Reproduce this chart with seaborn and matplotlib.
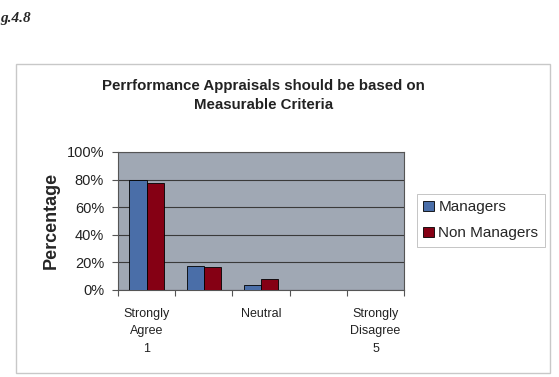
import matplotlib
matplotlib.use("Agg")
import matplotlib.pyplot as plt
import seaborn as sns
import pandas as pd
from matplotlib.patches import Rectangle
from matplotlib.ticker import FixedLocator, PercentFormatter

categories = ["1", "2", "3", "4", "5"]
tick_labels = ["Strongly\nAgree\n1", "", "Neutral", "", "Strongly\nDisagree\n5"]
series_names = ["Managers", "Non Managers"]
managers = [80, 17.5, 3.5, 0, 0]
non_managers = [77.5, 16.5, 8, 0, 0]
title = "Perrformance Appraisals should be based on\nMeasurable Criteria"
fig_label = "g.4.8"

df = pd.DataFrame({
    "category": categories * 2,
    "series": [series_names[0]] * len(categories) + [series_names[1]] * len(categories),
    "value": managers + non_managers,
})

sns.set_theme(style="white")
plt.rcParams["font.family"] = ["Liberation Sans", "DejaVu Sans"]

fig = plt.figure(figsize=(5.59, 3.77), dpi=100)
fig.patch.set_facecolor("white")

# outer chart frame
fig.patches.append(Rectangle((0.0286, 0.0106), 0.955, 0.82, transform=fig.transFigure,
                             fill=False, edgecolor="#c8c8c8", linewidth=1.0))

fig.text(0.0, 0.952, fig_label, family="Liberation Serif", style="italic",
         fontweight="bold", fontsize=11, ha="left", va="center")

ax = fig.add_axes([0.211, 0.231, 0.512, 0.366])
ax.set_facecolor("#a0a8b4")

palette = {"Managers": "#4a6ea8", "Non Managers": "#850014"}
sns.barplot(data=df, x="category", y="value", hue="series", order=categories,
            hue_order=series_names, palette=palette, width=0.6, saturation=1,
            edgecolor="black", linewidth=0.6, ax=ax, legend=True, zorder=3)

ax.set_ylim(0, 100)
ax.set_xlim(-0.5, len(categories) - 0.5)
ax.set_yticks([0, 20, 40, 60, 80, 100])
ax.yaxis.set_major_formatter(PercentFormatter(decimals=0))
ax.yaxis.grid(True, color="#3a3a3a", linewidth=0.8, zorder=1)
ax.set_axisbelow(True)
ax.set_xticks(range(len(categories)))
ax.set_xticklabels(tick_labels, fontsize=9, linespacing=1.6, color="#222222")
ax.xaxis.set_minor_locator(FixedLocator([i - 0.5 for i in range(len(categories) + 1)]))
ax.tick_params(axis="x", which="major", length=0, pad=13)
ax.tick_params(axis="x", which="minor", length=4, color="#555555", width=0.8, bottom=True)
ax.tick_params(axis="y", which="major", length=4, color="#555555", width=0.8, left=True,
               labelsize=10.5, pad=6)
for t in ax.get_yticklabels():
    t.set_color("#222222")
ax.set_xlabel("")
ax.set_ylabel("Percentage", fontsize=13, fontweight="bold", labelpad=5)
for s in ax.spines.values():
    s.set_color("#555555")
    s.set_linewidth(0.8)

fig.text(0.471, 0.747, title, fontsize=10.8, fontweight="bold", ha="center", va="center",
         linespacing=1.4, color="#222222")

leg = ax.legend(loc="upper left", bbox_to_anchor=(0.746, 0.485), bbox_transform=fig.transFigure,
                frameon=True, fancybox=False, edgecolor="#aaaaaa", fontsize=11,
                handlelength=0.7, handleheight=0.7, handletextpad=0.3,
                borderpad=0.4, labelspacing=0.8, borderaxespad=0)
leg.get_frame().set_linewidth(0.6)

fig.savefig("out.png", dpi=100, facecolor="white")
